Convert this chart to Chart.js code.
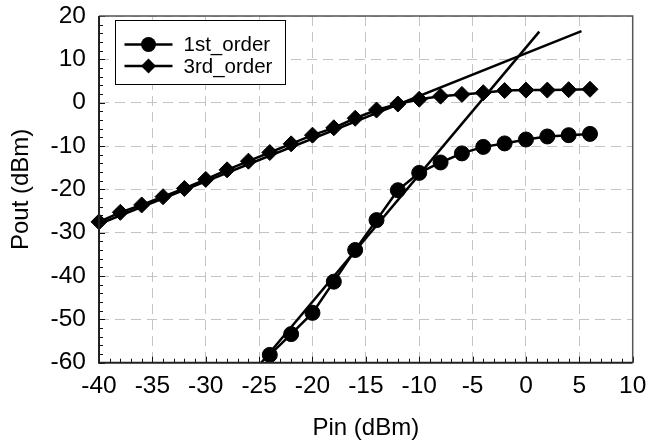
<!DOCTYPE html>
<html>
<head>
<meta charset="utf-8">
<script src="https://cdn.jsdelivr.net/npm/chart.js@4.4.0/dist/chart.umd.min.js"></script>
<style>
  html, body { margin: 0; padding: 0; background: #fff; }
  #wrap { width: 651px; height: 443px; }
</style>
</head>
<body>
<div id="wrap"><canvas id="chart" width="651" height="443"></canvas></div>
<script>
// diamonds (legend: 3rd_order)
const pin3 = [-40, -38, -36, -34, -32, -30, -28, -26, -24, -22, -20, -18, -16, -14, -12, -10, -8, -6, -4, -2, 0, 2, 4, 6];
const pout3 = [-27.5, -25.3, -23.6, -21.7, -19.8, -17.7, -15.5, -13.5, -11.5, -9.5, -7.5, -5.8, -3.6, -1.7, -0.3, 0.8, 1.5, 1.9, 2.3, 2.8, 2.9, 2.9, 3.0, 3.1];
// circles (legend: 1st_order)
const pin1 = [-24, -22, -20, -18, -16, -14, -12, -10, -8, -6, -4, -2, 0, 2, 4, 6];
const pout1 = [-58.2, -53.4, -48.5, -41.3, -34, -27.1, -20.2, -16.2, -13.8, -11.7, -10.2, -9.4, -8.5, -7.8, -7.5, -7.2];
// straight extrapolation lines (end points)
const fitPinA = [-40, 5.2];
const fitPoutA = [-28, 16.5];
const fitPinB = [-24.8, 1.25];
const fitPoutB = [-60, 16.4];

const xTicks = [-40, -35, -30, -25, -20, -15, -10, -5, 0, 5, 10];
const yTicks = [-60, -50, -40, -30, -20, -10, 0, 10, 20];

const FONT = "'Liberation Sans', Arial, sans-serif";

function toXY(xs, ys) {
  return xs.map((v, i) => ({ x: v, y: ys[i] }));
}

// kleine tikjes binnen het plotvak + kader
const frameAndTicks = {
  id: 'frameAndTicks',
  afterDraw(chart) {
    const { ctx, chartArea: a, scales: { x, y } } = chart;
    ctx.save();
    ctx.strokeStyle = '#111';
    ctx.lineWidth = 1;
    ctx.beginPath();
    for (let v = x.min; v <= x.max; v += 1) {
      const px = Math.round(x.getPixelForValue(v)) + 0.5;
      const len = v % 5 === 0 ? 6 : 4;
      ctx.moveTo(px, a.bottom);
      ctx.lineTo(px, a.bottom - len);
    }
    for (let v = y.min; v <= y.max; v += 2) {
      const py = Math.round(y.getPixelForValue(v)) + 0.5;
      const len = v % 10 === 0 ? 6 : 4;
      ctx.moveTo(a.left, py);
      ctx.lineTo(a.left + len, py);
    }
    ctx.stroke();

    // top and right edge
    ctx.strokeStyle = '#555';
    ctx.lineWidth = 1.5;
    ctx.beginPath();
    ctx.moveTo(a.left, a.top);
    ctx.lineTo(a.right, a.top);
    ctx.lineTo(a.right, a.bottom);
    ctx.stroke();
    // left and bottom edge
    ctx.strokeStyle = '#222';
    ctx.lineWidth = 2;
    ctx.beginPath();
    ctx.moveTo(a.left, a.top);
    ctx.lineTo(a.left, a.bottom);
    ctx.lineTo(a.right, a.bottom);
    ctx.stroke();
    ctx.restore();
  }
};

// legenda met lijn + marker in een kader
const boxLegend = {
  id: 'boxLegend',
  afterDraw(chart) {
    const { ctx, chartArea: a } = chart;
    const bx = a.left + 16.5, by = a.top + 4.5, bw = 170, bh = 64;
    ctx.save();
    ctx.fillStyle = '#fff';
    ctx.fillRect(bx, by, bw, bh);
    ctx.strokeStyle = '#000';
    ctx.lineWidth = 1;
    ctx.strokeRect(bx, by, bw, bh);

    const items = chart.data.datasets.filter(d => d.label);
    items.forEach((d, i) => {
      const cy = by + 24 + i * 21.6;
      ctx.strokeStyle = '#000';
      ctx.lineWidth = 2.5;
      ctx.beginPath();
      ctx.moveTo(bx + 9, cy);
      ctx.lineTo(bx + 57, cy);
      ctx.stroke();
      const mx = bx + 33;
      ctx.fillStyle = '#000';
      ctx.beginPath();
      if (d.pointStyle === 'rectRot') {
        ctx.moveTo(mx - 7.5, cy);
        ctx.lineTo(mx, cy - 7.5);
        ctx.lineTo(mx + 7.5, cy);
        ctx.lineTo(mx, cy + 7.5);
        ctx.closePath();
      } else {
        ctx.arc(mx, cy, 7.5, 0, Math.PI * 2);
      }
      ctx.fill();
      ctx.font = '20.5px ' + FONT;
      ctx.textBaseline = 'middle';
      ctx.textAlign = 'left';
      ctx.fillText(d.label, bx + 68, cy + 1);
    });
    ctx.restore();
  }
};

const lineBase = {
  borderColor: '#000',
  backgroundColor: '#000',
  borderWidth: 2.5,
  showLine: true,
  tension: 0,
  clip: false
};

new Chart(document.getElementById('chart'), {
  type: 'scatter',
  data: {
    datasets: [
      Object.assign({}, lineBase, {
        label: '1st_order',
        data: toXY(pin1, pout1),
        pointStyle: 'circle',
        pointRadius: 7.5,
        pointBorderWidth: 1
      }),
      Object.assign({}, lineBase, {
        label: '3rd_order',
        data: toXY(pin3, pout3),
        pointStyle: 'rectRot',
        pointRadius: 8,
        pointBorderWidth: 1
      }),
      Object.assign({}, lineBase, {
        label: '',
        data: toXY(fitPinA, fitPoutA),
        pointRadius: 0
      }),
      Object.assign({}, lineBase, {
        label: '',
        data: toXY(fitPinB, fitPoutB),
        pointRadius: 0
      })
    ]
  },
  options: {
    responsive: false,
    animation: false,
    events: [],
    layout: { padding: { top: 16, right: 18.3, left: 0, bottom: 0 } },
    plugins: {
      legend: { display: false },
      tooltip: { enabled: false }
    },
    scales: {
      x: {
        type: 'linear',
        min: -40,
        max: 10,
        afterBuildTicks: s => { s.ticks = xTicks.map(v => ({ value: v })); },
        afterFit: s => { s.height = 80.3; s.paddingLeft = 0; s.paddingRight = 0; },
        ticks: {
          color: '#000',
          font: { family: FONT, size: 24.5 },
          padding: 9,
          maxRotation: 0
        },
        grid: { color: '#c4c4c4', lineWidth: 1, drawTicks: false },
        border: { display: false, dash: [10, 6] },
        title: {
          display: true,
          text: 'Pin (dBm)',
          color: '#000',
          font: { family: FONT, size: 24 },
          padding: { top: 0, bottom: 0 }
        }
      },
      y: {
        type: 'linear',
        min: -60,
        max: 20,
        afterBuildTicks: s => { s.ticks = yTicks.map(v => ({ value: v })); },
        afterFit: s => { s.width = 99; s.paddingTop = 0; s.paddingBottom = 0; },
        ticks: {
          color: '#000',
          font: { family: FONT, size: 24.5 },
          padding: 13
        },
        grid: { color: '#c4c4c4', lineWidth: 1, drawTicks: false },
        border: { display: false, dash: [10, 6] },
        title: {
          display: true,
          text: 'Pout (dBm)',
          color: '#000',
          font: { family: FONT, size: 24 },
          padding: { top: 7, bottom: 7 }
        }
      }
    }
  },
  plugins: [frameAndTicks, boxLegend]
});
</script>
</body>
</html>
